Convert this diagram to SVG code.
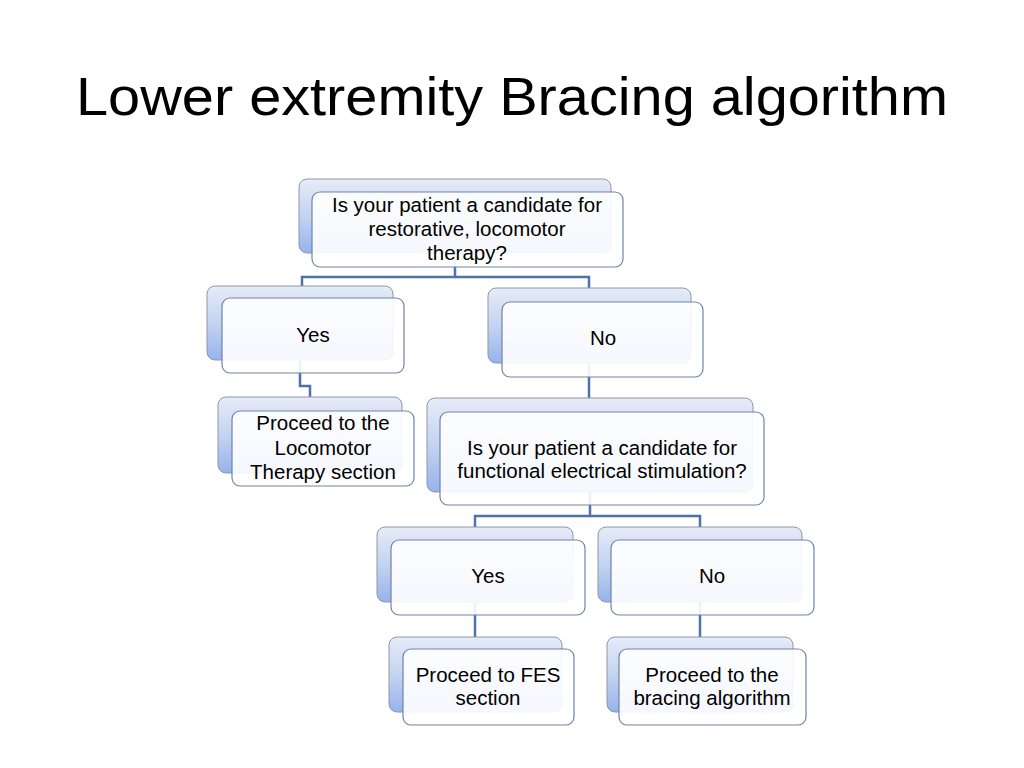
<svg xmlns="http://www.w3.org/2000/svg" width="1024" height="768" viewBox="0 0 1024 768">
<defs>
<linearGradient id="backGrad" x1="0" y1="0" x2="0" y2="1">
<stop offset="0" stop-color="#e6ecf8"/>
<stop offset="0.5" stop-color="#c4d3f1"/>
<stop offset="1" stop-color="#96b3ec"/>
</linearGradient>
<style>
.back{fill:url(#backGrad);stroke:#8d97a8;stroke-width:1}
.front{fill:#ffffff;fill-opacity:0.9;stroke:#6f84a8;stroke-width:1.2}
.conn{fill:none;stroke:#4f72a8;stroke-width:2.5}
.lbl{font-family:"Liberation Sans",Arial,sans-serif;font-size:20.5px;fill:#000;text-anchor:middle}
.title{font-family:"Liberation Sans",Arial,sans-serif;font-size:53px;fill:#000}
</style>
</defs>
<rect width="1024" height="768" fill="#ffffff"/>
<text class="title" x="76" y="115" textLength="872" lengthAdjust="spacingAndGlyphs">Lower extremity Bracing algorithm</text>

<g id="connectors">
<path class="conn" d="M455 252 V277 H302 V287"/>
<path class="conn" d="M455 277 H589 V289"/>
<path class="conn" d="M300 360 V386 H310 V397"/>
<path class="conn" d="M589 363 V398"/>
<path class="conn" d="M590 492 V516 H475 V527"/>
<path class="conn" d="M590 516 H700 V527"/>
<path class="conn" d="M475 602 V637"/>
<path class="conn" d="M700 602 V637"/>
</g>

<g id="node-q1">
<rect class="back" x="299" y="179" width="312" height="74" rx="8"/>
<rect class="front" x="312" y="192" width="311" height="75" rx="8"/>
<text class="lbl" x="467" y="212">Is your patient a candidate for</text>
<text class="lbl" x="467" y="236">restorative, locomotor</text>
<text class="lbl" x="467" y="260">therapy?</text>
</g>

<g id="node-yes1">
<rect class="back" x="207" y="286" width="186" height="74" rx="8"/>
<rect class="front" x="222" y="298" width="182" height="75" rx="8"/>
<text class="lbl" x="313" y="342">Yes</text>
</g>

<g id="node-no1">
<rect class="back" x="488" y="288" width="203" height="75" rx="8"/>
<rect class="front" x="502" y="302" width="201" height="75" rx="8"/>
<text class="lbl" x="603" y="345">No</text>
</g>

<g id="node-loco">
<rect class="back" x="218" y="397" width="184" height="76" rx="8"/>
<rect class="front" x="232" y="411" width="182" height="75" rx="8"/>
<text class="lbl" x="323" y="430">Proceed to the</text>
<text class="lbl" x="323" y="455">Locomotor</text>
<text class="lbl" x="323" y="479">Therapy section</text>
</g>

<g id="node-q2">
<rect class="back" x="427" y="398" width="326" height="94" rx="8"/>
<rect class="front" x="440" y="412" width="324" height="93" rx="8"/>
<text class="lbl" x="602" y="455">Is your patient a candidate for</text>
<text class="lbl" x="602" y="478">functional electrical stimulation?</text>
</g>

<g id="node-yes2">
<rect class="back" x="377" y="527" width="196" height="75" rx="8"/>
<rect class="front" x="391" y="540" width="194" height="75" rx="8"/>
<text class="lbl" x="488" y="583">Yes</text>
</g>

<g id="node-no2">
<rect class="back" x="598" y="527" width="204" height="75" rx="8"/>
<rect class="front" x="611" y="540" width="203" height="75" rx="8"/>
<text class="lbl" x="712" y="583">No</text>
</g>

<g id="node-fes">
<rect class="back" x="389" y="637" width="173" height="75" rx="8"/>
<rect class="front" x="403" y="649" width="171" height="76" rx="8"/>
<text class="lbl" x="488" y="682">Proceed to FES</text>
<text class="lbl" x="488" y="705">section</text>
</g>

<g id="node-bracing">
<rect class="back" x="607" y="637" width="186" height="75" rx="8"/>
<rect class="front" x="619" y="649" width="187" height="76" rx="8"/>
<text class="lbl" x="712" y="682">Proceed to the</text>
<text class="lbl" x="712" y="705">bracing algorithm</text>
</g>
</svg>
